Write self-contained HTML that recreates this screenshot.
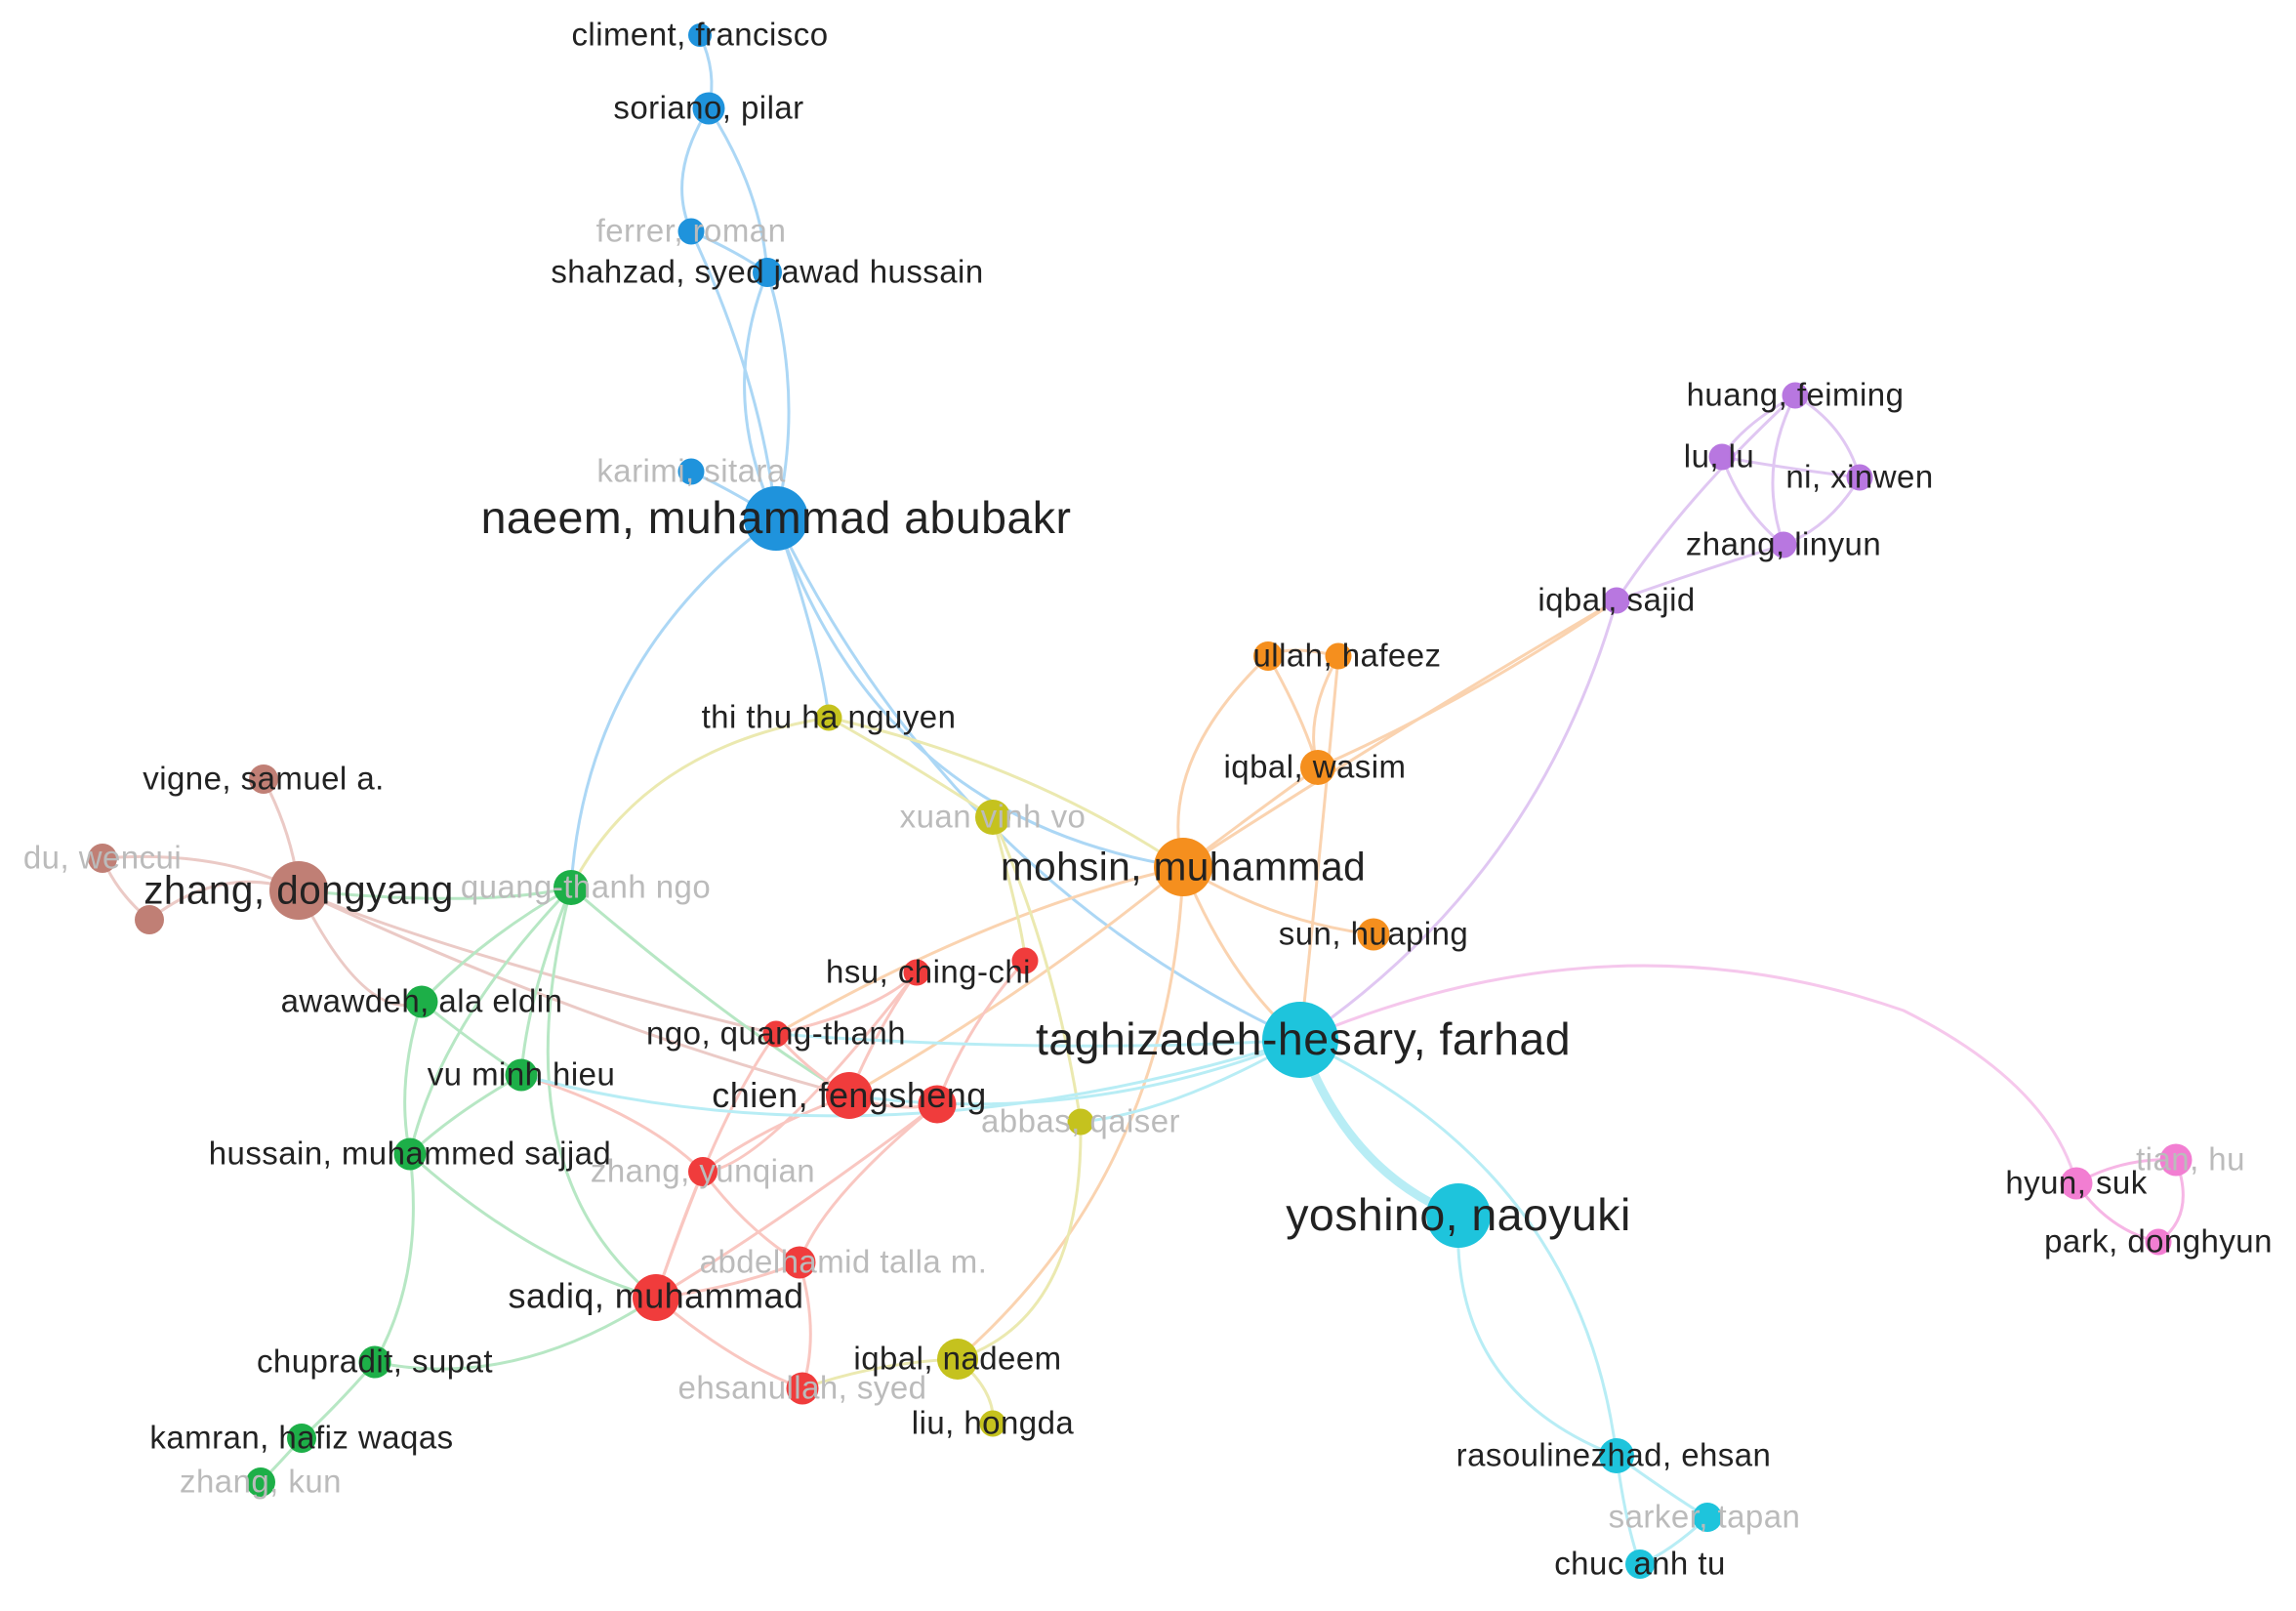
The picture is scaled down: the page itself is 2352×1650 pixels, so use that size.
<!DOCTYPE html>
<html><head><meta charset="utf-8"><style>
html,body{margin:0;padding:0;background:#fff;}
svg{display:block;}
text{font-family:"Liberation Sans",sans-serif;font-size:22px;fill:#222;letter-spacing:0.3px;}
.big{font-size:31px;}
.f{fill:#bbb;}
</style></head><body>
<svg width="2352" height="1650" viewBox="0 0 1568 1100" xmlns="http://www.w3.org/2000/svg">
<g fill="none" stroke-width="2" opacity="0.55">
<g stroke="#6ab8ee">
<path d="M478 24 Q490 50 484 74"/>
<path d="M484 74 Q455 120 472 158"/>
<path d="M484 74 Q520 130 524 186"/>
<path d="M472 158 Q500 170 524 186"/>
<path d="M524 186 Q490 270 530 354"/>
<path d="M524 186 Q550 270 530 354"/>
<path d="M472 158 Q520 260 530 354"/>
<path d="M472 322 Q500 335 530 354"/>
<path d="M530 354 Q400 450 390 606"/>
<path d="M530 354 Q560 440 566 490"/>
<path d="M530 354 Q650 600 888 710"/>
<path d="M530 354 Q600 560 808 592"/>
</g>
<g stroke="#c79be8">
<path d="M1226 270 Q1190 290 1176 312"/>
<path d="M1226 270 Q1260 290 1270 326"/>
<path d="M1226 270 Q1200 320 1218 372"/>
<path d="M1176 312 Q1220 320 1270 326"/>
<path d="M1176 312 Q1190 350 1218 372"/>
<path d="M1270 326 Q1250 360 1218 372"/>
<path d="M1104 410 Q1160 390 1218 372"/>
<path d="M1104 410 Q1150 340 1226 270"/>
<path d="M1104 410 Q1050 600 888 710"/>
<path d="M888 710 Q1100 620 1300 690 Q1400 740 1418 808" stroke="#ee9add"/>
</g>
<g stroke="#f7b070">
<path d="M866 448 Q890 490 900 524"/>
<path d="M914 448 Q890 490 900 524"/>
<path d="M866 448 Q880 440 914 448"/>
<path d="M900 524 Q850 560 808 592"/>
<path d="M866 448 Q790 520 808 592"/>
<path d="M808 592 Q870 630 938 638"/>
<path d="M808 592 Q840 670 888 710"/>
<path d="M808 592 Q680 620 530 706"/>
<path d="M808 592 Q700 680 580 748"/>
<path d="M808 592 Q800 800 654 928"/>
<path d="M900 524 Q1000 480 1104 410"/>
<path d="M808 592 Q950 500 1104 410"/>
<path d="M914 448 Q900 600 888 710"/>
</g>
<g stroke="#dcd870">
<path d="M566 490 Q620 520 678 558"/>
<path d="M566 490 Q440 510 390 606"/>
<path d="M566 490 Q700 520 808 592"/>
<path d="M678 558 Q720 650 738 766"/>
<path d="M738 766 Q740 900 654 928"/>
<path d="M654 928 Q680 950 678 972"/>
<path d="M548 948 Q600 930 654 928"/>
<path d="M678 558 Q700 640 700 656"/>
</g>
<g stroke="#dba098">
<path d="M180 532 Q200 570 204 608"/>
<path d="M70 586 Q150 580 204 608"/>
<path d="M70 586 Q80 610 102 628"/>
<path d="M102 628 Q150 590 204 608"/>
<path d="M204 608 Q400 700 580 748"/>
<path d="M204 608 Q300 650 530 706"/>
<path d="M204 608 Q250 700 288 684"/>
</g>
<g stroke="#7dd494">
<path d="M390 606 Q330 640 288 684"/>
<path d="M390 606 Q360 680 356 734"/>
<path d="M390 606 Q300 700 280 788"/>
<path d="M390 606 Q500 700 580 748"/>
<path d="M390 606 Q330 620 204 608"/>
<path d="M288 684 Q320 710 356 734"/>
<path d="M288 684 Q270 740 280 788"/>
<path d="M356 734 Q310 760 280 788"/>
<path d="M280 788 Q290 870 256 930"/>
<path d="M256 930 Q230 960 206 982"/>
<path d="M206 982 Q190 1000 178 1012"/>
<path d="M280 788 Q360 860 448 886"/>
<path d="M256 930 Q350 950 448 886"/>
<path d="M390 606 Q340 800 448 886"/>
</g>
<g stroke="#f59a90">
<path d="M626 664 Q600 690 530 706"/>
<path d="M626 664 Q600 700 580 748"/>
<path d="M700 656 Q660 700 640 754"/>
<path d="M530 706 Q550 730 580 748"/>
<path d="M580 748 Q610 760 640 754"/>
<path d="M580 748 Q520 770 480 800"/>
<path d="M530 706 Q490 760 448 886"/>
<path d="M480 800 Q510 840 546 862"/>
<path d="M480 800 Q460 850 448 886"/>
<path d="M448 886 Q500 880 546 862"/>
<path d="M448 886 Q500 930 548 948"/>
<path d="M546 862 Q560 910 548 948"/>
<path d="M640 754 Q560 820 546 862"/>
<path d="M626 664 Q520 800 480 800"/>
<path d="M356 734 Q440 760 480 800"/>
<path d="M640 754 Q540 830 448 886"/>
</g>
<g stroke="#7fdfee">
<path d="M888 710 Q720 720 530 706"/>
<path d="M888 710 Q740 770 580 748"/>
<path d="M888 710 Q600 800 356 734"/>
<path d="M888 710 Q800 760 738 766"/>
<path d="M888 710 Q920 800 996 830" stroke-width="6"/>
<path d="M996 830 Q990 950 1104 994"/>
<path d="M888 710 Q1080 800 1104 994"/>
<path d="M1104 994 Q1140 1020 1166 1036"/>
<path d="M1104 994 Q1110 1040 1120 1068"/>
<path d="M1166 1036 Q1140 1060 1120 1068"/>
</g>
<g stroke="#f07bd0">
<path d="M1418 808 Q1450 790 1486 792"/>
<path d="M1486 792 Q1500 830 1474 848"/>
<path d="M1418 808 Q1440 840 1474 848"/>
</g>
</g>
<g>
<g fill="#1f93dc">
<circle cx="478" cy="24" r="8"/><circle cx="484" cy="74" r="11"/><circle cx="472" cy="158" r="9"/>
<circle cx="524" cy="186" r="10"/><circle cx="472" cy="322" r="9"/><circle cx="530" cy="354" r="22"/>
</g>
<g fill="#b877e0">
<circle cx="1226" cy="270" r="9"/><circle cx="1176" cy="312" r="9"/><circle cx="1270" cy="326" r="9"/>
<circle cx="1218" cy="372" r="9"/><circle cx="1104" cy="410" r="9"/>
</g>
<g fill="#f58f1e">
<circle cx="866" cy="448" r="10"/><circle cx="914" cy="448" r="9"/><circle cx="900" cy="524" r="12"/>
<circle cx="808" cy="592" r="20"/><circle cx="938" cy="638" r="11"/>
</g>
<g fill="#c5c21e">
<circle cx="566" cy="490" r="9"/><circle cx="678" cy="558" r="12"/><circle cx="738" cy="766" r="9"/>
<circle cx="654" cy="928" r="14"/><circle cx="678" cy="972" r="9"/>
</g>
<g fill="#c07f75">
<circle cx="180" cy="532" r="10"/><circle cx="70" cy="586" r="10"/><circle cx="204" cy="608" r="20"/><circle cx="102" cy="628" r="10"/>
</g>
<g fill="#1daf48">
<circle cx="390" cy="606" r="12"/><circle cx="288" cy="684" r="11"/><circle cx="356" cy="734" r="11"/>
<circle cx="280" cy="788" r="11"/><circle cx="256" cy="930" r="11"/><circle cx="206" cy="982" r="10"/><circle cx="178" cy="1012" r="10"/>
</g>
<g fill="#f03c3c">
<circle cx="626" cy="664" r="9"/><circle cx="700" cy="656" r="9"/><circle cx="530" cy="706" r="9"/>
<circle cx="580" cy="748" r="16"/><circle cx="640" cy="754" r="13"/><circle cx="480" cy="800" r="10"/>
<circle cx="546" cy="862" r="11"/><circle cx="448" cy="886" r="16"/><circle cx="548" cy="948" r="11"/>
</g>
<g fill="#1ec4dc">
<circle cx="888" cy="710" r="26"/><circle cx="996" cy="830" r="22"/><circle cx="1104" cy="994" r="12"/>
<circle cx="1166" cy="1036" r="10"/><circle cx="1120" cy="1068" r="10"/>
</g>
<g fill="#f27ed2">
<circle cx="1418" cy="808" r="11"/><circle cx="1486" cy="792" r="11"/><circle cx="1474" cy="848" r="9"/>
</g>
</g>
<g text-anchor="middle">
<text x="478" y="31">climent, francisco</text>
<text x="484" y="81">soriano, pilar</text>
<text x="472" y="165" class="f">ferrer, roman</text>
<text x="524" y="193">shahzad, syed jawad hussain</text>
<text x="472" y="329" class="f">karimi, sitara</text>
<text x="530" y="364" class="big">naeem, muhammad abubakr</text>
<text x="1226" y="277">huang, feiming</text>
<text x="1174" y="319">lu, lu</text>
<text x="1270" y="333">ni, xinwen</text>
<text x="1218" y="379">zhang, linyun</text>
<text x="1104" y="417">iqbal, sajid</text>
<text x="920" y="455">ullah, hafeez</text>
<text x="898" y="531">iqbal, wasim</text>
<text x="808" y="601" style="font-size:27px">mohsin, muhammad</text>
<text x="938" y="645">sun, huaping</text>
<text x="566" y="497">thi thu ha nguyen</text>
<text x="678" y="565" class="f">xuan vinh vo</text>
<text x="738" y="773" class="f">abbas, qaiser</text>
<text x="654" y="935">iqbal, nadeem</text>
<text x="678" y="979">liu, hongda</text>
<text x="180" y="539">vigne, samuel a.</text>
<text x="70" y="593" class="f">du, wencui</text>
<text x="204" y="617" style="font-size:27px">zhang, dongyang</text>
<text x="400" y="613" class="f">quang-thanh ngo</text>
<text x="288" y="691">awawdeh, ala eldin</text>
<text x="356" y="741">vu minh hieu</text>
<text x="280" y="795">hussain, muhammed sajjad</text>
<text x="256" y="937">chupradit, supat</text>
<text x="206" y="989">kamran, hafiz waqas</text>
<text x="178" y="1019" class="f">zhang, kun</text>
<text x="634" y="671">hsu, ching-chi</text>
<text x="530" y="713">ngo, quang-thanh</text>
<text x="580" y="756" style="font-size:24px">chien, fengsheng</text>
<text x="480" y="807" class="f">zhang, yunqian</text>
<text x="576" y="869" class="f">abdelhamid talla m.</text>
<text x="448" y="893" style="font-size:24px">sadiq, muhammad</text>
<text x="548" y="955" class="f">ehsanullah, syed</text>
<text x="890" y="720" class="big">taghizadeh-hesary, farhad</text>
<text x="996" y="840" class="big">yoshino, naoyuki</text>
<text x="1102" y="1001">rasoulinezhad, ehsan</text>
<text x="1164" y="1043" class="f">sarker, tapan</text>
<text x="1120" y="1075">chuc anh tu</text>
<text x="1418" y="815">hyun, suk</text>
<text x="1496" y="799" class="f">tian, hu</text>
<text x="1474" y="855">park, donghyun</text>
</g>
</svg>
</body></html>
